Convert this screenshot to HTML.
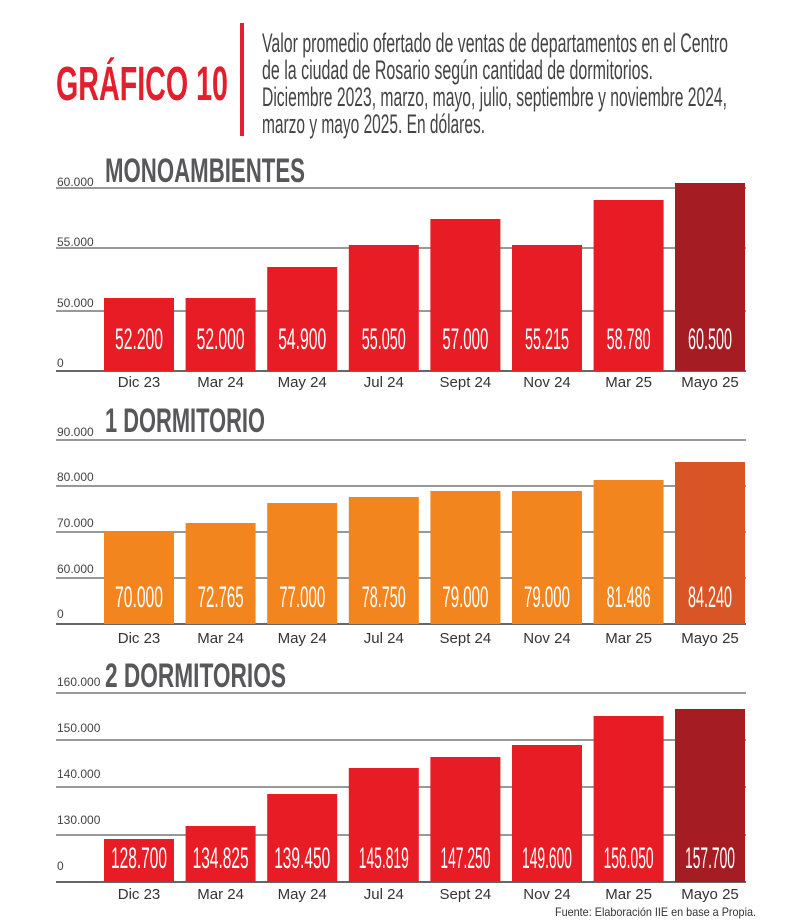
<!DOCTYPE html>
<html><head><meta charset="utf-8"><style>
html,body{margin:0;padding:0;background:#fff;}
svg{display:block;}
.yl{font-family:"Liberation Sans Narrow","Liberation Sans",sans-serif;font-size:12px;fill:#444;}
.xl{font-family:"Liberation Sans Narrow","Liberation Sans",sans-serif;font-size:15px;fill:#333;}
.v{font-family:"Liberation Sans Narrow","Liberation Sans",sans-serif;font-size:30px;fill:#fff;}
.t{font-family:"Liberation Sans Narrow","Liberation Sans",sans-serif;font-weight:bold;fill:#58585a;}
.s{font-family:"Liberation Sans Narrow","Liberation Sans",sans-serif;font-size:27px;fill:#444;}
</style></head><body>
<svg width="800" height="924" viewBox="0 0 800 924" xmlns="http://www.w3.org/2000/svg">
<text x="56" y="100" font-family="Liberation Sans Narrow,Liberation Sans,sans-serif" font-weight="bold" font-size="48" fill="#e31e2d" textLength="172" lengthAdjust="spacingAndGlyphs">GRÁFICO 10</text>
<rect x="240" y="23" width="4" height="113" fill="#e31e2d"/>
<text class="s" x="262" y="52" textLength="466" lengthAdjust="spacingAndGlyphs">Valor promedio ofertado de ventas de departamentos en el Centro</text>
<text class="s" x="262" y="79" textLength="391" lengthAdjust="spacingAndGlyphs">de la ciudad de Rosario según cantidad de dormitorios.</text>
<text class="s" x="262" y="106" textLength="465" lengthAdjust="spacingAndGlyphs">Diciembre 2023, marzo, mayo, julio, septiembre y noviembre 2024,</text>
<text class="s" x="262" y="133" textLength="223" lengthAdjust="spacingAndGlyphs">marzo y mayo 2025. En dólares.</text>

<!-- Chart 1 -->
<text class="t" x="105" y="182" font-size="34" textLength="200" lengthAdjust="spacingAndGlyphs">MONOAMBIENTES</text>
<g stroke="#777" stroke-width="1.5">
<line x1="56" y1="188" x2="746" y2="188"/><line x1="56" y1="248" x2="746" y2="248"/><line x1="56" y1="311" x2="746" y2="311"/>
</g>
<line x1="56" y1="371" x2="746" y2="371" stroke="#666" stroke-width="2"/>
<text class="yl" x="57" y="186">60.000</text><text class="yl" x="57" y="246">55.000</text><text class="yl" x="57" y="307">50.000</text><text class="yl" x="57" y="367">0</text>
<g fill="#e81c24">
<rect x="104" y="298" width="70" height="73"/><rect x="185.6" y="298" width="70" height="73"/><rect x="267.2" y="267" width="70" height="104"/><rect x="348.8" y="245" width="70" height="126"/><rect x="430.4" y="219" width="70" height="152"/><rect x="512" y="245" width="70" height="126"/><rect x="593.6" y="200" width="70" height="171"/>
</g>
<rect x="675" y="183" width="70" height="188" fill="#a51c22"/>
<g class="v" text-anchor="middle">
<text x="139" y="349" textLength="48" lengthAdjust="spacingAndGlyphs">52.200</text><text x="220.6" y="349" textLength="48" lengthAdjust="spacingAndGlyphs">52.000</text><text x="302.2" y="349" textLength="48" lengthAdjust="spacingAndGlyphs">54.900</text><text x="383.8" y="349" textLength="44" lengthAdjust="spacingAndGlyphs">55.050</text><text x="465.4" y="349" textLength="46" lengthAdjust="spacingAndGlyphs">57.000</text><text x="547" y="349" textLength="44" lengthAdjust="spacingAndGlyphs">55.215</text><text x="628.6" y="349" textLength="44" lengthAdjust="spacingAndGlyphs">58.780</text><text x="710" y="349" textLength="44" lengthAdjust="spacingAndGlyphs">60.500</text>
</g>
<g class="xl" text-anchor="middle">
<text x="139" y="387">Dic 23</text><text x="220.6" y="387">Mar 24</text><text x="302.2" y="387">May 24</text><text x="383.8" y="387">Jul 24</text><text x="465.4" y="387">Sept 24</text><text x="547" y="387">Nov 24</text><text x="628.6" y="387">Mar 25</text><text x="710" y="387">Mayo 25</text>
</g>

<!-- Chart 2 -->
<text class="t" x="105" y="432" font-size="34" textLength="160" lengthAdjust="spacingAndGlyphs">1 DORMITORIO</text>
<g stroke="#777" stroke-width="1.5">
<line x1="56" y1="440" x2="746" y2="440"/><line x1="56" y1="486" x2="746" y2="486"/><line x1="56" y1="532" x2="746" y2="532"/><line x1="56" y1="578" x2="746" y2="578"/>
</g>
<line x1="56" y1="624" x2="746" y2="624" stroke="#666" stroke-width="2"/>
<text class="yl" x="57" y="436">90.000</text><text class="yl" x="57" y="481">80.000</text><text class="yl" x="57" y="527">70.000</text><text class="yl" x="57" y="573">60.000</text><text class="yl" x="57" y="618">0</text>
<g fill="#f3851f">
<rect x="104" y="532" width="70" height="92"/><rect x="185.6" y="523" width="70" height="101"/><rect x="267.2" y="503" width="70" height="121"/><rect x="348.8" y="497" width="70" height="127"/><rect x="430.4" y="491" width="70" height="133"/><rect x="512" y="491" width="70" height="133"/><rect x="593.6" y="480" width="70" height="144"/>
</g>
<rect x="675" y="462" width="70" height="162" fill="#d95525"/>
<g class="v" text-anchor="middle">
<text x="139" y="607" textLength="48" lengthAdjust="spacingAndGlyphs">70.000</text><text x="220.6" y="607" textLength="46" lengthAdjust="spacingAndGlyphs">72.765</text><text x="302.2" y="607" textLength="46" lengthAdjust="spacingAndGlyphs">77.000</text><text x="383.8" y="607" textLength="44" lengthAdjust="spacingAndGlyphs">78.750</text><text x="465.4" y="607" textLength="46" lengthAdjust="spacingAndGlyphs">79.000</text><text x="547" y="607" textLength="46" lengthAdjust="spacingAndGlyphs">79.000</text><text x="628.6" y="607" textLength="44" lengthAdjust="spacingAndGlyphs">81.486</text><text x="710" y="607" textLength="44" lengthAdjust="spacingAndGlyphs">84.240</text>
</g>
<g class="xl" text-anchor="middle">
<text x="139" y="643">Dic 23</text><text x="220.6" y="643">Mar 24</text><text x="302.2" y="643">May 24</text><text x="383.8" y="643">Jul 24</text><text x="465.4" y="643">Sept 24</text><text x="547" y="643">Nov 24</text><text x="628.6" y="643">Mar 25</text><text x="710" y="643">Mayo 25</text>
</g>

<!-- Chart 3 -->
<text class="t" x="105" y="687" font-size="34" textLength="181" lengthAdjust="spacingAndGlyphs">2 DORMITORIOS</text>
<g stroke="#777" stroke-width="1.5">
<line x1="56" y1="693" x2="746" y2="693"/><line x1="56" y1="740" x2="746" y2="740"/><line x1="56" y1="787" x2="746" y2="787"/><line x1="56" y1="835" x2="746" y2="835"/>
</g>
<line x1="56" y1="882" x2="746" y2="882" stroke="#666" stroke-width="2"/>
<text class="yl" x="57" y="686">160.000</text><text class="yl" x="57" y="732">150.000</text><text class="yl" x="57" y="778">140.000</text><text class="yl" x="57" y="824">130.000</text><text class="yl" x="57" y="870">0</text>
<g fill="#e81c24">
<rect x="104" y="839" width="70" height="43"/><rect x="185.6" y="826" width="70" height="56"/><rect x="267.2" y="794" width="70" height="88"/><rect x="348.8" y="768" width="70" height="114"/><rect x="430.4" y="757" width="70" height="125"/><rect x="512" y="745" width="70" height="137"/><rect x="593.6" y="716" width="70" height="166"/>
</g>
<rect x="675" y="709" width="70" height="173" fill="#a51c22"/>
<g class="v" text-anchor="middle">
<text x="139" y="868" textLength="56" lengthAdjust="spacingAndGlyphs">128.700</text><text x="220.6" y="868" textLength="56" lengthAdjust="spacingAndGlyphs">134.825</text><text x="302.2" y="868" textLength="56" lengthAdjust="spacingAndGlyphs">139.450</text><text x="383.8" y="868" textLength="50" lengthAdjust="spacingAndGlyphs">145.819</text><text x="465.4" y="868" textLength="50" lengthAdjust="spacingAndGlyphs">147.250</text><text x="547" y="868" textLength="50" lengthAdjust="spacingAndGlyphs">149.600</text><text x="628.6" y="868" textLength="50" lengthAdjust="spacingAndGlyphs">156.050</text><text x="710" y="868" textLength="50" lengthAdjust="spacingAndGlyphs">157.700</text>
</g>
<g class="xl" text-anchor="middle">
<text x="139" y="899">Dic 23</text><text x="220.6" y="899">Mar 24</text><text x="302.2" y="899">May 24</text><text x="383.8" y="899">Jul 24</text><text x="465.4" y="899">Sept 24</text><text x="547" y="899">Nov 24</text><text x="628.6" y="899">Mar 25</text><text x="710" y="899">Mayo 25</text>
</g>
<text x="756" y="916" text-anchor="end" font-family="Liberation Sans Narrow,Liberation Sans,sans-serif" font-size="12" fill="#333" textLength="201" lengthAdjust="spacingAndGlyphs">Fuente: Elaboración IIE en base a Propia.</text>
</svg>
</body></html>
